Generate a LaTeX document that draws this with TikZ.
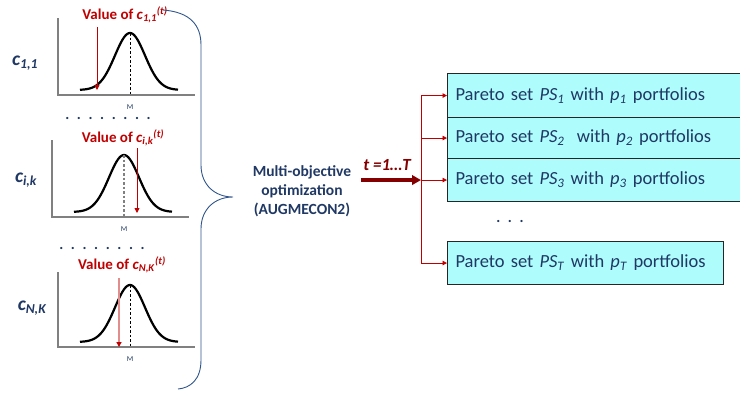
\documentclass[tikz,border=0pt]{standalone}
\usepackage{fontspec}
\setmainfont{Carlito}
\usetikzlibrary{arrows.meta}

\definecolor{navy}{RGB}{31,56,100}
\definecolor{bracecol}{RGB}{47,85,140}
\definecolor{hired}{RGB}{192,0,0}
\definecolor{darkred}{RGB}{132,0,0}
\definecolor{setfill}{RGB}{175,252,252}
\definecolor{axisgray}{RGB}{128,128,128}

\tikzset{
  axisline/.style={axisgray, line width=1.8pt},
  bell/.style={black, line width=2.2pt, line join=round},
  peakdash/.style={black, line width=0.9pt, dash pattern=on 2.5pt off 2pt},
  peakdashgray/.style={axisgray, line width=1.3pt, dash pattern=on 2.5pt off 2pt},
  valarrow/.style={hired, line width=0.9pt, -{Triangle[length=5pt,width=5pt]}},
  valarrowlight/.style={hired!45, line width=1.2pt, -{Triangle[length=5pt,width=5pt,fill=hired,color=hired]}},
  vallabel/.style={hired, font=\fontsize{15}{16}\selectfont\bfseries, inner sep=0pt},
  varlabel/.style={navy, font=\fontsize{19.5}{21}\selectfont\bfseries\itshape, inner sep=0pt},
  mlabel/.style={navy, font=\fontsize{7.5}{8}\selectfont, inner sep=0pt},
  dotrow/.style={navy, font=\fontsize{15}{16}\selectfont\bfseries, inner sep=0pt,
    text height=2pt, text depth=0pt},
  setbox/.style={draw=black!85, line width=1.1pt, fill=setfill, anchor=north west,
    inner xsep=8pt, align=left, text=navy, font=\fontsize{18.5}{20}\selectfont},
  feed/.style={hired, line width=0.8pt, -{Triangle[length=4.5pt,width=4.5pt]}},
  bigarrow/.style={darkred, line width=3.2pt, -{Triangle[length=9pt,width=9.5pt]}},
}

% axes, bell curve and the dashed line at the mean M
\newcommand\bellplot[3]{%
  \draw[axisline] (0,-#1) -- (0,0) -- (137,0);
  \draw[bell] plot[domain=22:120, samples=90] (\x,{-5-57*exp(-0.5*pow((\x-72)/15,2))});
  \draw[#2] (72,-62) -- (72,0);
  \node[mlabel] (M#3) at (72,12) {M};
}
\newcommand\dotline{.\hspace{7.6pt}.\hspace{7.6pt}.\hspace{7.6pt}.\hspace{7.6pt}.\hspace{7.6pt}.\hspace{7.6pt}.\hspace{7.6pt}.}

\begin{document}
\begin{tikzpicture}[x=1pt, y=-1pt]
\useasboundingbox (0,0) rectangle (740,394);

% ---- first criterion c_{1,1}
\begin{scope}[shift={(58,95)}]
  \bellplot{77}{peakdash}{a}
  \draw[valarrow] (39,-68) -- (39,-5);
  \node[vallabel] (va) at (67,-80) {Value of \textit{c}\textsubscript{\textit{1,1}}\textsuperscript{\textit{(t)}}};
  \node[varlabel] (ca) at (-33,-32) {c\textsubscript{1,1}};
\end{scope}
\node[dotrow] (d1) at (108,118) {\dotline};

% ---- generic criterion c_{i,k}
\begin{scope}[shift={(52,217)}]
  \bellplot{77}{peakdashgray}{b}
  \draw[valarrow] (85,-69) -- (85,-4);
  \node[vallabel] (vb) at (71,-79) {Value of \textit{c}\textsubscript{\textit{i,k}}\textsuperscript{\textit{(t)}}};
  \node[varlabel] (cb) at (-26,-37) {c\textsubscript{i,k}};
\end{scope}
\node[dotrow] (d2) at (102,248) {\dotline};

% ---- last criterion c_{N,K}
\begin{scope}[shift={(58,347)}]
  \bellplot{75}{peakdash}{c}
  \draw[valarrowlight] (61,-69) -- (61,0);
  \node[vallabel] (vc) at (64,-82) {Value of \textit{c}\textsubscript{\textit{N,K}}\textsuperscript{\textit{(t)}}};
  \node[varlabel] (cc) at (-26,-39) {c\textsubscript{N,K}};
\end{scope}

% ---- curly brace gathering the criteria
\draw[bracecol, line width=0.9pt]
  (163,10) .. controls (190,12) and (201,25) .. (201,45)
  -- (201,165) .. controls (201,185) and (215,197) .. (233,197)
  .. controls (215,197) and (201,209) .. (201,229)
  -- (201,360) .. controls (201,380) and (190,388) .. (178,389);

% ---- optimisation step
\node[navy, align=center, font=\fontsize{15.5}{19}\selectfont\bfseries] (mo) at (302,191)
  {Multi-objective\\optimization\\(AUGMECON2)};

% ---- Pareto sets
\node[setbox, minimum height=44pt, text width=282pt] (b1) at (447,73)
  {Pareto set \textit{PS}\textsubscript{\textit{1}} with \textit{p}\textsubscript{\textit{1}} portfolios};
\node[setbox, minimum height=41pt, text width=282pt] (b2) at (447,117)
  {Pareto set \textit{PS}\textsubscript{\textit{2}}\ \ with \textit{p}\textsubscript{\textit{2}} portfolios};
\node[setbox, minimum height=43pt, text width=282pt] (b3) at (447,158)
  {Pareto set \textit{PS}\textsubscript{\textit{3}} with \textit{p}\textsubscript{\textit{3}} portfolios};
\node[dotrow] (bd) at (510,221) {.\hspace{7.5pt}.\hspace{7.5pt}.};
\node[setbox, minimum height=43pt, text width=260pt] (bT) at (447,241)
  {Pareto set \textit{PS}\textsubscript{\textit{T}} with \textit{p}\textsubscript{\textit{T}} portfolios};

% ---- fan-out of the time periods
\coordinate (split) at (421,0 |- b3.west);
\coordinate (tstart) at (361,0 |- b3.west);
\draw[feed] (split) |- (b1.west);
\draw[feed] (split) |- (b2.west);
\draw[feed] (split) -- (b3.west);
\draw[feed] (split) |- (bT.west);
\draw[bigarrow] (tstart) -- (split);
\node[darkred, font=\fontsize{17}{18}\selectfont\bfseries\itshape, inner sep=0pt] (tl) at (387,165) {t =1…T};
\end{tikzpicture}
\end{document}
